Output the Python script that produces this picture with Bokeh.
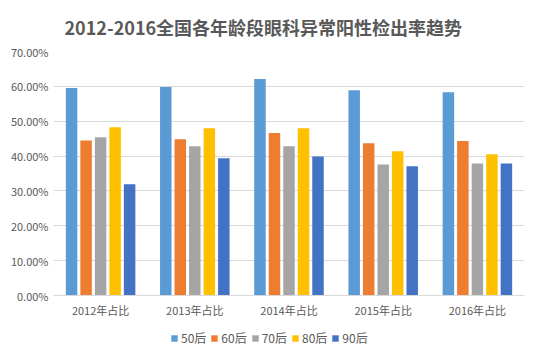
from bokeh.plotting import figure
from bokeh.layouts import column
from bokeh.models import FactorRange, Range1d, NumeralTickFormatter, Legend, LegendItem, ColumnDataSource, FixedTicker
from bokeh.transform import dodge
from bokeh.embed import file_html
from bokeh.resources import INLINE

years = ["2012年占比", "2013年占比", "2014年占比", "2015年占比", "2016年占比"]
series = ["50后", "60后", "70后", "80后", "90后"]
v50 = [0.595, 0.598, 0.621, 0.589, 0.583]
v60 = [0.445, 0.448, 0.466, 0.437, 0.443]
v70 = [0.454, 0.428, 0.428, 0.376, 0.379]
v80 = [0.483, 0.480, 0.480, 0.414, 0.405]
v90 = [0.319, 0.394, 0.399, 0.371, 0.379]
colors = ["#5B9BD5", "#ED7D31", "#A5A5A5", "#FFC000", "#4472C4"]
yticks = [0.0, 0.1, 0.2, 0.3, 0.4, 0.5, 0.6, 0.7]

FONT = "Noto Sans CJK SC"
src = ColumnDataSource(dict(year=years, s0=v50, s1=v60, s2=v70, s3=v80, s4=v90))

p = figure(x_range=FactorRange(*years, range_padding=0), y_range=Range1d(0, 0.7),
           frame_width=471, frame_height=244, output_backend="svg", toolbar_location=None,
           min_border_left=53, min_border_right=16, min_border_top=51, min_border_bottom=30)
p.outline_line_color = None
p.background_fill_color = "white"
p.border_fill_color = "white"

p.title.text = "2012-2016全国各年龄段眼科异常阳性检出率趋势"
p.title.align = "left"
p.title.offset = 11
p.title.text_font = FONT
p.title.text_font_size = "18px"
p.title.text_font_style = "bold"
p.title.text_color = "#595959"
p.title.standoff = 23

offsets = [-0.308, -0.154, 0.0, 0.154, 0.308]
for i, (c, off) in enumerate(zip(colors, offsets)):
    p.vbar(x=dodge("year", off, range=p.x_range), top="s%d" % i, width=0.122,
           source=src, fill_color=c, line_color=None)

p.yaxis.ticker = FixedTicker(ticks=yticks)
p.yaxis.formatter = NumeralTickFormatter(format="0.00%")
p.yaxis.axis_line_color = None
p.yaxis.major_tick_line_color = None
p.yaxis.major_tick_out = 0
p.yaxis.minor_tick_line_color = None
p.yaxis.major_label_text_font = FONT
p.yaxis.major_label_text_font_size = "11px"
p.yaxis.major_label_text_color = "#595959"
p.yaxis.major_label_standoff = 5

p.xaxis.axis_line_color = "#D9D9D9"
p.xaxis.major_tick_line_color = None
p.xaxis.major_tick_out = 0
p.xaxis.minor_tick_line_color = None
p.xaxis.major_label_text_font = FONT
p.xaxis.major_label_text_font_size = "11px"
p.xaxis.major_label_text_color = "#595959"
p.xaxis.major_label_standoff = 6

p.xgrid.grid_line_color = None
p.ygrid.grid_line_color = "#D9D9D9"

# legend strip below the chart
lg = figure(x_range=FactorRange(*years), y_range=Range1d(0, 0.7), width=540, height=33,
            output_backend="svg", toolbar_location=None, x_axis_type=None, y_axis_type=None,
            min_border=0, min_border_left=0, min_border_right=0, min_border_top=0, min_border_bottom=0)
lg.outline_line_color = None
lg.border_fill_color = "white"
items = []
for i, (s, c) in enumerate(zip(series, colors)):
    r = lg.vbar(x="year", top="s%d" % i, width=0.1, source=src, fill_color=c, line_color=None)
    r.visible = False
    items.append(LegendItem(label=s, renderers=[r]))

legend = Legend(items=items, orientation="horizontal", location=(117, 12),
                glyph_width=8, glyph_height=8, label_text_font=FONT,
                label_text_font_size="12px", label_text_color="#595959",
                label_standoff=3, spacing=4, padding=2, margin=0,
                label_height=12, border_line_color=None, background_fill_alpha=0,
                inactive_fill_alpha=0, click_policy="none")
lg.add_layout(legend, "center")

layout = column(p, lg, spacing=0)
open("out.html", "w").write(file_html(layout, INLINE))
